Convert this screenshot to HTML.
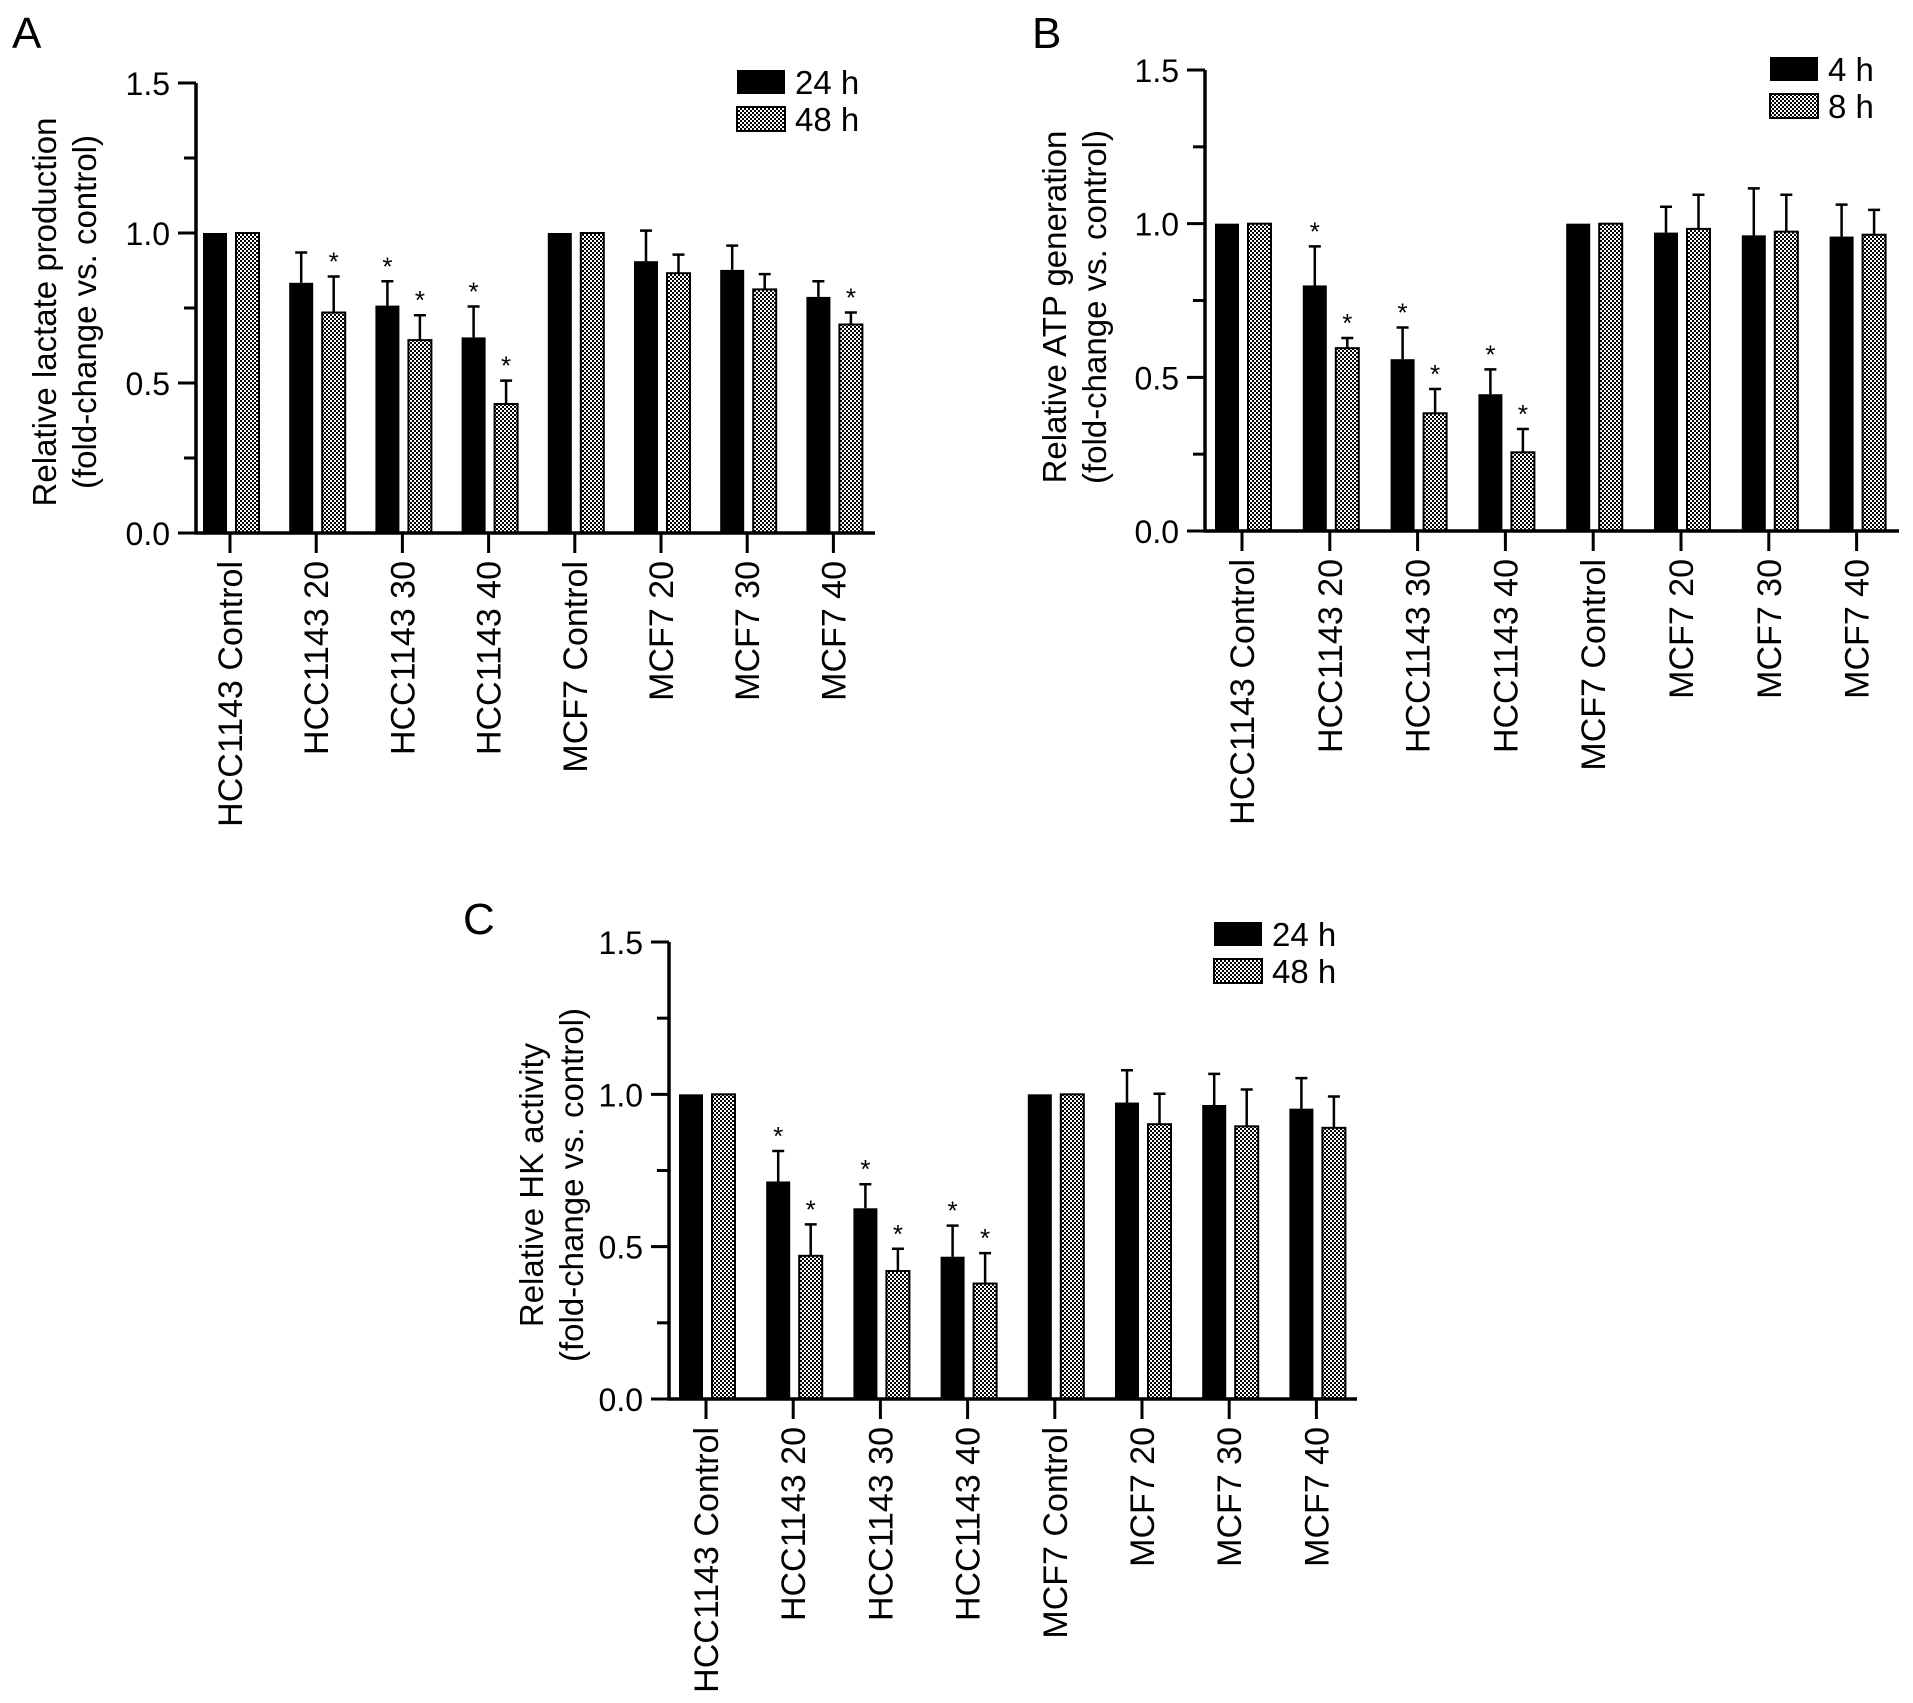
<!DOCTYPE html>
<html><head><meta charset="utf-8"><style>
html,body{margin:0;padding:0;background:#fff;}
svg{display:block;font-family:"Liberation Sans",Arial,sans-serif;}
</style></head><body>
<svg id="fig" width="1913" height="1703" viewBox="0 0 1913 1703">
<defs>
<pattern id="chk" width="4" height="4" patternUnits="userSpaceOnUse">
<rect width="4" height="4" fill="#fff"/><rect width="2" height="2" fill="#000"/><rect x="2" y="2" width="2" height="2" fill="#000"/>
</pattern>
</defs>
</svg>
<script>
const categories = ["HCC1143 Control","HCC1143 20","HCC1143 30","HCC1143 40","MCF7 Control","MCF7 20","MCF7 30","MCF7 40"];
const yTicks = [0.0,0.5,1.0,1.5];
const yTickLabels = ["0.0","0.5","1.0","1.5"];
// Panel A
const aS1 = [1,0.834,0.758,0.652,1,0.906,0.877,0.787];
const aS1Err = [1,0.935,0.839,0.755,1,1.008,0.958,0.839];
const aS2 = [1,0.735,0.643,0.43,1,0.866,0.812,0.695];
const aS2Err = [1,0.855,0.726,0.508,1,0.928,0.863,0.735];
const aStar1 = [0,0,1,1,0,0,0,0];
const aStar2 = [0,1,1,1,0,0,0,1];
const aLegend = ["24 h","48 h"];
// Panel B
const bS1 = [1,0.799,0.559,0.445,1,0.971,0.962,0.958];
const bS1Err = [1,0.926,0.662,0.526,1,1.055,1.115,1.062];
const bS2 = [1,0.595,0.383,0.256,1,0.983,0.974,0.964];
const bS2Err = [1,0.628,0.462,0.332,1,1.094,1.094,1.045];
const bStar1 = [0,1,1,1,0,0,0,0];
const bStar2 = [0,1,1,1,0,0,0,0];
const bLegend = ["4 h","8 h"];
// Panel C
const cS1 = [1,0.714,0.626,0.467,1,0.973,0.965,0.953];
const cS1Err = [1,0.814,0.705,0.569,1,1.079,1.067,1.053];
const cS2 = [1,0.47,0.42,0.379,1,0.902,0.895,0.89];
const cS2Err = [1,0.573,0.493,0.479,1,1.002,1.016,0.993];
const cStar1 = [0,1,1,1,0,0,0,0];
const cStar2 = [0,1,1,1,0,0,0,0];
const cLegend = ["24 h","48 h"];

const svg = document.getElementById('fig');
const NS = 'http://www.w3.org/2000/svg';
function mk(tag, attrs, parent, text){
  const e = document.createElementNS(NS, tag);
  for (const k in attrs) e.setAttribute(k, attrs[k]);
  if (text !== undefined) e.textContent = text;
  (parent || svg).appendChild(e);
  return e;
}

function panel(p){
  const g = mk('g', {});
  
  
  const yS = v => p.y0 - (p.y0 - p.y15) * v / 1.5;
  const xS = i => p.t0 + p.step * i;
  const lab = mk('text', {x:p.labX, y:p.labY, 'font-size':44}, g, p.letter);
  
  
  for (let i = 0; i < categories.length; i++){
    const t = xS(i);
    const b1 = mk('rect', {x:t-27, y:yS(p.s1[i]), width:24, height:p.y0-yS(p.s1[i]), fill:'#000'}, g);
    
    
    const b2 = mk('rect', {x:t+6, y:yS(p.s2[i]), width:23, height:p.y0-yS(p.s2[i]), fill:'url(#chk)', stroke:'#000', 'stroke-width':2}, g);
    
    
    [[t-15, p.s1[i], p.e1[i], p.st1[i]], [t+17.5, p.s2[i], p.e2[i], p.st2[i]]].forEach(([cx, v, e, st], k) => {
      if (e > v + 0.005){
        const eb = mk('path', {d:`M${cx},${yS(v)}V${yS(e)}M${cx-6},${yS(e)}H${cx+6}`, stroke:'#000', 'stroke-width':2.5, fill:'none'}, g);
        
        
      }
      if (st){
        const s = mk('text', {x:cx, y:yS(Math.max(e, v)) - 6, 'font-size':26, 'text-anchor':'middle'}, g, '*');
        
        
      }
    });
    const tk = mk('line', {x1:t, x2:t, y1:p.y0, y2:p.y0+20, stroke:'#000', 'stroke-width':3}, g);
    
    
    const xl = mk('text', {x:0, y:0, 'font-size':34, 'text-anchor':'end', transform:`translate(${t+12},${p.y0+28}) rotate(-90)`}, g, categories[i]);
    
    
  }
  const ax = mk('path', {d:`M${p.ax},${p.y15}V${p.y0}H${p.xEnd}`, stroke:'#000', 'stroke-width':3.5, fill:'none'}, g);
  
  
  for (let v = 0; v <= 1.5001; v += 0.25){
    const major = Math.abs(v*2 - Math.round(v*2)) < 1e-6;
    const t = mk('line', {x1:p.ax-(major?18:12), x2:p.ax, y1:yS(v), y2:yS(v), stroke:'#000', 'stroke-width':3}, g);
    
    
  }
  yTicks.forEach((v, i) => {
    const t = mk('text', {x:p.ax-26, y:yS(v)+12, 'font-size':32, 'text-anchor':'end'}, g, yTickLabels[i]);
    
    
  });
  const yt = mk('text', {x:0, y:0, 'font-size':33, 'text-anchor':'middle', transform:`translate(${p.titleX},${p.titleY}) rotate(-90)`}, g);
  
  
  mk('tspan', {x:0, dy:0}, yt, p.title1);
  mk('tspan', {x:0, dy:40}, yt, p.title2);
  [0,1].forEach(k => {
    const ly = p.legY + k * 37;
    const r = mk('rect', k ? {x:p.legX, y:ly, width:48, height:24, fill:'url(#chk)', stroke:'#000', 'stroke-width':2} : {x:p.legX, y:ly, width:48, height:24, fill:'#000'}, g);
    
    
    const t = mk('text', {x:p.legX+58, y:ly+24, 'font-size':33}, g, p.legend[k]);
    
    
  });
}

panel({id:'a', letter:'A', labX:12, labY:48, ax:196, y0:533, y15:83, t0:230, step:86.2, xEnd:875,
  s1:aS1, e1:aS1Err, s2:aS2, e2:aS2Err, st1:aStar1, st2:aStar2, legend:aLegend, legX:737, legY:70,
  titleX:56, titleY:312, title1:'Relative lactate production', title2:'(fold-change vs. control)'});
panel({id:'b', letter:'B', labX:1032, labY:48, ax:1205, y0:531, y15:70, t0:1242, step:87.8, xEnd:1899,
  s1:bS1, e1:bS1Err, s2:bS2, e2:bS2Err, st1:bStar1, st2:bStar2, legend:bLegend, legX:1770, legY:57,
  titleX:1066, titleY:307, title1:'Relative ATP generation', title2:'(fold-change vs. control)'});
panel({id:'c', letter:'C', labX:463, labY:934, ax:669, y0:1399, y15:942, t0:706, step:87.2, xEnd:1357,
  s1:cS1, e1:cS1Err, s2:cS2, e2:cS2Err, st1:cStar1, st2:cStar2, legend:cLegend, legX:1214, legY:922,
  titleX:543, titleY:1185, title1:'Relative HK activity', title2:'(fold-change vs. control)'});
</script>
</body></html>
